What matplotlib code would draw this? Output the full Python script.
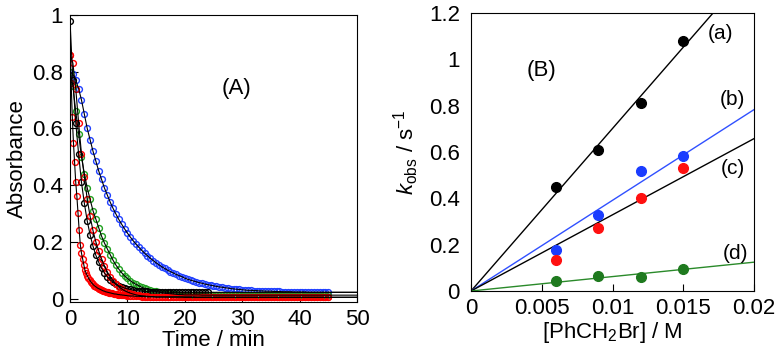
import matplotlib
matplotlib.use("Agg")
import matplotlib.pyplot as plt
import numpy as np

plt.rcParams['font.family'] = ['Liberation Sans', 'DejaVu Sans']
plt.rcParams['mathtext.fontset'] = 'custom'
plt.rcParams['mathtext.rm'] = 'Liberation Sans'
plt.rcParams['mathtext.it'] = 'Liberation Sans:italic'

# ---- panel A: absorbance decays ----
t_half = np.arange(0, 45.01, 0.5)          # 0 .. 45 min, every 0.5 min
t_black = np.arange(0, 24.01, 0.5)         # black run stops near 24 min
t_fast = np.concatenate([np.arange(0, 10.01, 0.2), np.arange(10.5, 45.01, 0.5)])

abs_blue = [0.80, 0.79, 0.77, 0.74, 0.70, 0.65, 0.60, 0.56, 0.52, 0.485,
            0.45, 0.42, 0.39, 0.365, 0.34, 0.318, 0.298, 0.279, 0.262, 0.246,
            0.231, 0.217, 0.204, 0.192, 0.181, 0.170, 0.160, 0.151, 0.142, 0.134,
            0.126, 0.119, 0.112, 0.106, 0.100, 0.095, 0.090, 0.085, 0.081, 0.077,
            0.072, 0.068, 0.065, 0.062, 0.059, 0.056, 0.054, 0.051, 0.049, 0.047,
            0.045, 0.043, 0.041, 0.040, 0.038, 0.037, 0.035, 0.034, 0.033, 0.032,
            0.031, 0.030, 0.029, 0.029, 0.028, 0.028, 0.027, 0.027, 0.026, 0.026,
            0.026, 0.025, 0.025, 0.025, 0.024, 0.024, 0.024, 0.024, 0.023, 0.023,
            0.023, 0.023, 0.023, 0.022, 0.022, 0.022, 0.022, 0.022, 0.022, 0.022,
            0.022]

abs_green = [0.80, 0.75, 0.66, 0.58, 0.50, 0.44, 0.39, 0.35, 0.31, 0.28,
             0.25, 0.22, 0.196, 0.175, 0.155, 0.135, 0.118, 0.104, 0.091, 0.080,
             0.071, 0.063, 0.056, 0.050, 0.045, 0.040, 0.036, 0.033, 0.030, 0.027,
             0.025, 0.023, 0.021, 0.019, 0.018, 0.017, 0.016, 0.015, 0.014, 0.014,
             0.013, 0.013, 0.013, 0.013, 0.013, 0.013, 0.012, 0.012, 0.012, 0.012,
             0.012, 0.012, 0.012, 0.012, 0.012, 0.012, 0.012, 0.012, 0.012, 0.012,
             0.012, 0.012, 0.012, 0.012, 0.012, 0.012, 0.012, 0.012, 0.012, 0.012,
             0.012, 0.012, 0.012, 0.012, 0.012, 0.012, 0.012, 0.012, 0.012, 0.012,
             0.012, 0.012, 0.012, 0.012, 0.012, 0.012, 0.012, 0.012, 0.012, 0.012,
             0.012]

abs_red_mid = [0.86, 0.83, 0.74, 0.62, 0.51, 0.43, 0.35, 0.29, 0.24, 0.20,
               0.168, 0.140, 0.115, 0.094, 0.077, 0.063, 0.051, 0.042, 0.034, 0.028,
               0.023, 0.019, 0.016, 0.013, 0.011, 0.010, 0.009, 0.008, 0.007, 0.007,
               0.006, 0.006, 0.006, 0.006, 0.006, 0.006, 0.006, 0.006, 0.006, 0.006,
               0.006, 0.006, 0.006, 0.006, 0.005, 0.005, 0.005, 0.005, 0.005, 0.005,
               0.005, 0.005, 0.005, 0.005, 0.005, 0.005, 0.005, 0.005, 0.005, 0.005,
               0.005, 0.005, 0.005, 0.005, 0.005, 0.005, 0.005, 0.005, 0.005, 0.005,
               0.005, 0.005, 0.005, 0.005, 0.005, 0.005, 0.005, 0.005, 0.005, 0.005,
               0.005, 0.005, 0.005, 0.005, 0.005, 0.005, 0.005, 0.005, 0.005, 0.005,
               0.005]

abs_black = [0.98, 0.77, 0.62, 0.51, 0.41, 0.336, 0.274, 0.225, 0.185, 0.153,
             0.128, 0.107, 0.090, 0.077, 0.066, 0.058, 0.051, 0.045, 0.041, 0.037,
             0.034, 0.032, 0.030, 0.028, 0.027, 0.026, 0.025, 0.025, 0.024, 0.024,
             0.023, 0.023, 0.023, 0.023, 0.022, 0.022, 0.022, 0.022, 0.022, 0.022,
             0.022, 0.022, 0.022, 0.022, 0.022, 0.022, 0.022, 0.022, 0.022]

abs_red_fast = [0.86, 0.76, 0.64, 0.55, 0.48, 0.41, 0.36, 0.30, 0.24, 0.19,
                0.16, 0.14, 0.12, 0.10, 0.090, 0.081, 0.073, 0.066, 0.060, 0.055,
                0.050, 0.046, 0.043, 0.040, 0.037, 0.035, 0.033, 0.031, 0.029, 0.027,
                0.026, 0.024, 0.023, 0.022, 0.021, 0.020, 0.019, 0.018, 0.017, 0.016,
                0.016, 0.015, 0.014, 0.014, 0.013, 0.013, 0.012, 0.012, 0.011, 0.011,
                0.010,
                # tail, 10.5 .. 45 min
                0.009, 0.009, 0.008, 0.008, 0.007, 0.007, 0.006, 0.006, 0.006,
                0.005, 0.005, 0.005, 0.005, 0.005, 0.005, 0.005, 0.005, 0.005, 0.005,
                0.004, 0.004, 0.004, 0.004, 0.004, 0.004, 0.004, 0.004, 0.004, 0.004,
                0.004, 0.004, 0.004, 0.004, 0.004, 0.004, 0.004, 0.004, 0.004, 0.004,
                0.004, 0.004, 0.004, 0.004, 0.004, 0.004, 0.004, 0.004, 0.004, 0.004,
                0.004, 0.004, 0.004, 0.004, 0.004, 0.004, 0.004, 0.004, 0.004, 0.004,
                0.004, 0.004, 0.004, 0.004, 0.004, 0.004, 0.004, 0.004, 0.004, 0.004,
                0.004]

decays = [
    (t_half, abs_blue, '#2040ff'),
    (t_half, abs_green, '#1fa01f'),
    (t_black, abs_black, '#000000'),
    (t_half, abs_red_mid, '#ff0000'),
    (t_fast, abs_red_fast, '#ff0000'),
]

# ---- panel B: kobs vs [PhCH2Br] ----
conc = [0.006, 0.009, 0.012, 0.015]
k_a = [0.45, 0.61, 0.81, 1.08]
k_b = [0.175, 0.33, 0.52, 0.585]
k_c = [0.135, 0.27, 0.40, 0.53]
k_d = [0.045, 0.065, 0.062, 0.095]

series_b = [
    (k_a, '#000000', '#000000', '(a)', 0.0176, 1.11),
    (k_b, '#1a3cff', '#3050ff', '(b)', 0.0185, 0.825),
    (k_c, '#ff1010', '#000000', '(c)', 0.0185, 0.53),
    (k_d, '#1f7a1f', '#2a8a2a', '(d)', 0.0187, 0.163),
]

fig = plt.figure(figsize=(7.76, 3.54), dpi=100)
ax1 = fig.add_axes([0.0902, 0.147, 0.3698, 0.811])
ax2 = fig.add_axes([0.607, 0.178, 0.3647, 0.785])

fs = 16

for t, a, col in decays:
    t = np.asarray(t)
    a = np.asarray(a)
    ax1.plot(t, a, 'o', mfc='none', mec=col, ms=4.2, mew=1.0, zorder=2)
    # fitted curve runs on to the end of the axis
    ax1.plot(np.append(t, 50), np.append(a, a[-1]), '-', color='black', lw=0.8, zorder=3)

ax1.set_xlim(0, 50)
ax1.set_ylim(-0.012, 1.0)
ax1.set_xticks([0, 10, 20, 30, 40, 50])
ax1.set_yticks([0, 0.2, 0.4, 0.6, 0.8, 1.0])
ax1.set_yticklabels(['0', '0.2', '0.4', '0.6', '0.8', '1'])
ax1.tick_params(direction='in', length=6, width=0.8, labelsize=fs, pad=5)
ax1.set_xlabel('Time / min', fontsize=fs, labelpad=0)
ax1.set_ylabel('Absorbance', fontsize=fs, labelpad=3)
ax1.text(29, 0.74, '(A)', fontsize=fs, ha='center', va='center')

xfit = np.array([0, 0.02])
c = np.array(conc)
for k, mcol, lcol, lab, lx, ly in series_b:
    k = np.array(k)
    slope = np.sum(c * k) / np.sum(c * c)
    ax2.plot(xfit, slope * xfit, '-', color=lcol, lw=1.0, zorder=2)
    ax2.plot(c, k, 'o', color=mcol, ms=7, zorder=3)
    ax2.text(lx, ly, lab, fontsize=15, ha='center', va='center')

ax2.text(0.005, 0.95, '(B)', fontsize=fs, ha='center', va='center')
ax2.set_xlim(0, 0.02)
ax2.set_ylim(0, 1.2)
ax2.set_xticks([0, 0.005, 0.01, 0.015, 0.02])
ax2.set_xticklabels(['0', '0.005', '0.01', '0.015', '0.02'])
ax2.set_yticks([0, 0.2, 0.4, 0.6, 0.8, 1.0, 1.2])
ax2.set_yticklabels(['0', '0.2', '0.4', '0.6', '0.8', '1', '1.2'])
ax2.tick_params(axis='x', direction='in', length=5, width=0.8, labelsize=fs, pad=5)
ax2.tick_params(axis='y', direction='in', length=0, labelsize=fs, pad=8)
ax2.set_xlabel('[PhCH$_2$Br] / M', fontsize=fs, labelpad=1)
ax2.set_ylabel('$k_{\\rm obs}$ / s$^{-1}$', fontsize=fs, labelpad=6)

for ax in (ax1, ax2):
    for s in ax.spines.values():
        s.set_linewidth(0.8)

fig.savefig('out.png', dpi=100)
